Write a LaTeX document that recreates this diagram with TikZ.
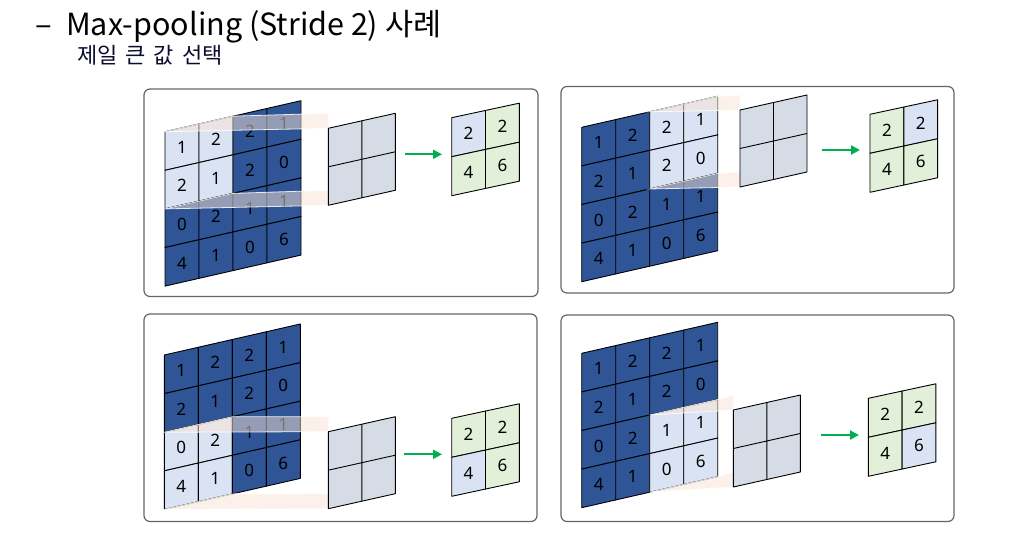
\documentclass[tikz,border=0pt]{standalone}
\usepackage{fontspec}
\setmainfont{Noto Sans}
\newfontfamily\krfont{Noto Sans CJK KR}
\usetikzlibrary{arrows.meta}
\definecolor{cellDark}{HTML}{2F5597}
\definecolor{cellLight}{HTML}{DAE3F3}
\definecolor{midGrey}{HTML}{D6DCE5}
\definecolor{outGreen}{HTML}{E2F0D9}
\definecolor{bandPeach}{HTML}{FBE5D6}
\definecolor{arrowGreen}{HTML}{00B050}
\definecolor{frameGrey}{HTML}{666666}
\definecolor{subNavy}{HTML}{0C0C2C}
\tikzset{
  framebox/.style={draw=frameGrey, line width=1.2pt, rounded corners=6pt},
  cell/.style={draw=black, line width=0.9pt, line join=round},
  digit/.style={font=\fontsize{17}{17}\selectfont, inner sep=0pt, text=black},
  band/.style={fill=bandPeach, fill opacity=0.5, draw=white, draw opacity=0.85, line width=0.8pt},
  pool/.style={draw=arrowGreen, line width=2pt, -{Triangle[length=9pt,width=9pt]}},
}
% input 4x4 grid: #1 prefix, #2 x, #3 y, #4 highlight column, #5 highlight row
\newcommand\ingrid[5]{%
  \begin{scope}[shift={(#2,#3)}, yslant=0.228]
    \foreach \v [count=\i from 0] in {1,2,2,1,2,1,2,0,0,2,1,1,4,1,0,6}{
      \pgfmathtruncatemacro\cc{mod(\i,4)}
      \pgfmathtruncatemacro\rr{div(\i,4)}
      \pgfmathtruncatemacro\hl{and(and(\cc>=#4,\cc<=#4+1),and(\rr>=#5,\rr<=#5+1))}
      \ifnum\hl=1 \def\cellcol{cellLight}\else\def\cellcol{cellDark}\fi
      \pgfmathsetmacro\xa{\cc*34}\pgfmathsetmacro\xb{\xa+34}
      \pgfmathsetmacro\ya{\rr*38.6}\pgfmathsetmacro\yb{\ya+38.6}
      \filldraw[cell, fill=\cellcol] (\xa,\ya) -- (\xb,\ya) -- (\xb,\yb) -- (\xa,\yb) -- cycle;
      \node[digit] (#1-c\i) at (\xa+17,\ya+19.3) {\v};
    }
    \coordinate (#1-hTL) at (#4*34, #5*38.6);
    \coordinate (#1-hTR) at (#4*34+68, #5*38.6);
    \coordinate (#1-hBL) at (#4*34, #5*38.6+77.2);
    \coordinate (#1-hBR) at (#4*34+68, #5*38.6+77.2);
  \end{scope}}
% middle 2x2 grid coordinates: #1 prefix, #2 x, #3 y
\newcommand\midcoords[3]{%
  \begin{scope}[shift={(#2,#3)}, yslant=0.224]
    \coordinate (#1-mTL) at (0,0);
    \coordinate (#1-mTR) at (67,0);
    \coordinate (#1-mBL) at (0,77);
    \coordinate (#1-mBR) at (67,77);
  \end{scope}}
\newcommand\midgrid[3]{%
  \begin{scope}[shift={(#2,#3)}, yslant=0.224]
    \filldraw[cell, fill=midGrey] (0,0) -- (67,0) -- (67,77) -- (0,77) -- cycle;
    \draw[cell] (33.5,0) -- (33.5,77) (0,38.5) -- (67,38.5);
  \end{scope}}
% output 2x2 grid: #1 prefix, #2 x, #3 y, #4 highlighted index
\newcommand\outgrid[4]{%
  \begin{scope}[shift={(#2,#3)}, yslant=0.215]
    \foreach \v [count=\i from 0] in {2,2,4,6}{
      \pgfmathtruncatemacro\cc{mod(\i,2)}
      \pgfmathtruncatemacro\rr{div(\i,2)}
      \ifnum\i=#4 \def\cellcol{cellLight}\else\def\cellcol{outGreen}\fi
      \pgfmathsetmacro\xa{\cc*33.8}\pgfmathsetmacro\xb{\xa+33.8}
      \pgfmathsetmacro\ya{\rr*39}\pgfmathsetmacro\yb{\ya+39}
      \filldraw[cell, fill=\cellcol] (\xa,\ya) -- (\xb,\ya) -- (\xb,\yb) -- (\xa,\yb) -- cycle;
      \node[digit] (#1-o\i) at (\xa+16.9,\ya+19.5) {\v};
    }
  \end{scope}}
\newcommand\bands[1]{%
  \path[band] (#1-hTL) -- (#1-hTR) -- (#1-mTL |- #1-mTR) -- (#1-mTL) -- cycle;
  \path[band] (#1-hBL) -- (#1-hBR) -- (#1-mBL |- #1-mBR) -- (#1-mBL) -- cycle;}
\begin{document}
\begin{tikzpicture}[x=1pt,y=-1pt]
\useasboundingbox (0,0) rectangle (1025,552);
\fill[white] (0,0) rectangle (1025,552);
% titles
\node[anchor=base west, inner sep=0pt, font=\krfont\fontsize{31}{31}\selectfont] (bullet) at (35,35) {–};
\node[anchor=base west, inner sep=0pt, font=\krfont\fontsize{30.5}{30.5}\selectfont] (title) at (66,35) {Max-pooling (Stride 2) 사례};
\node[anchor=base west, inner sep=0pt, font=\krfont\fontsize{22}{22}\selectfont, text=subNavy] (sub) at (77,63) {제일\hspace{8pt}큰\hspace{8pt}값\hspace{8pt}선택};
% frames
\draw[framebox] (144,89) rectangle (538,296.5);
\draw[framebox] (561,86.5) rectangle (954,293);
\draw[framebox] (144,314) rectangle (537,521.5);
\draw[framebox] (561,315) rectangle (954,521.5);
% panel 1
\ingrid{p1}{165}{131.7}{0}{0}
\midcoords{p1}{328.3}{128.3}
\bands{p1}
\midgrid{p1}{328.3}{128.3}
\outgrid{p1}{451.7}{117.7}{0}
\coordinate (p1-as) at (405,154.3);
\coordinate (p1-ae) at (442,154.3);
\draw[pool] (p1-as) -- (p1-ae);
% panel 2
\ingrid{p2}{581.7}{127.3}{2}{0}
\midcoords{p2}{740}{110}
\bands{p2}
\midgrid{p2}{740}{110}
\outgrid{p2}{870}{114.3}{1}
\coordinate (p2-as) at (821.7,150);
\coordinate (p2-ae) at (860,150);
\draw[pool] (p2-as) -- (p2-ae);
% panel 3
\ingrid{p3}{164.3}{355}{0}{2}
\midcoords{p3}{328.3}{431.7}
\bands{p3}
\midgrid{p3}{328.3}{431.7}
\outgrid{p3}{451.7}{418.3}{2}
\coordinate (p3-as) at (404,454.3);
\coordinate (p3-ae) at (442,454.3);
\draw[pool] (p3-as) -- (p3-ae);
% panel 4
\ingrid{p4}{581.7}{353.3}{2}{2}
\midcoords{p4}{733.3}{410}
\bands{p4}
\midgrid{p4}{733.3}{410}
\outgrid{p4}{868.3}{398.3}{3}
\coordinate (p4-as) at (820.7,435);
\coordinate (p4-ae) at (859,435);
\draw[pool] (p4-as) -- (p4-ae);
\end{tikzpicture}
\end{document}
